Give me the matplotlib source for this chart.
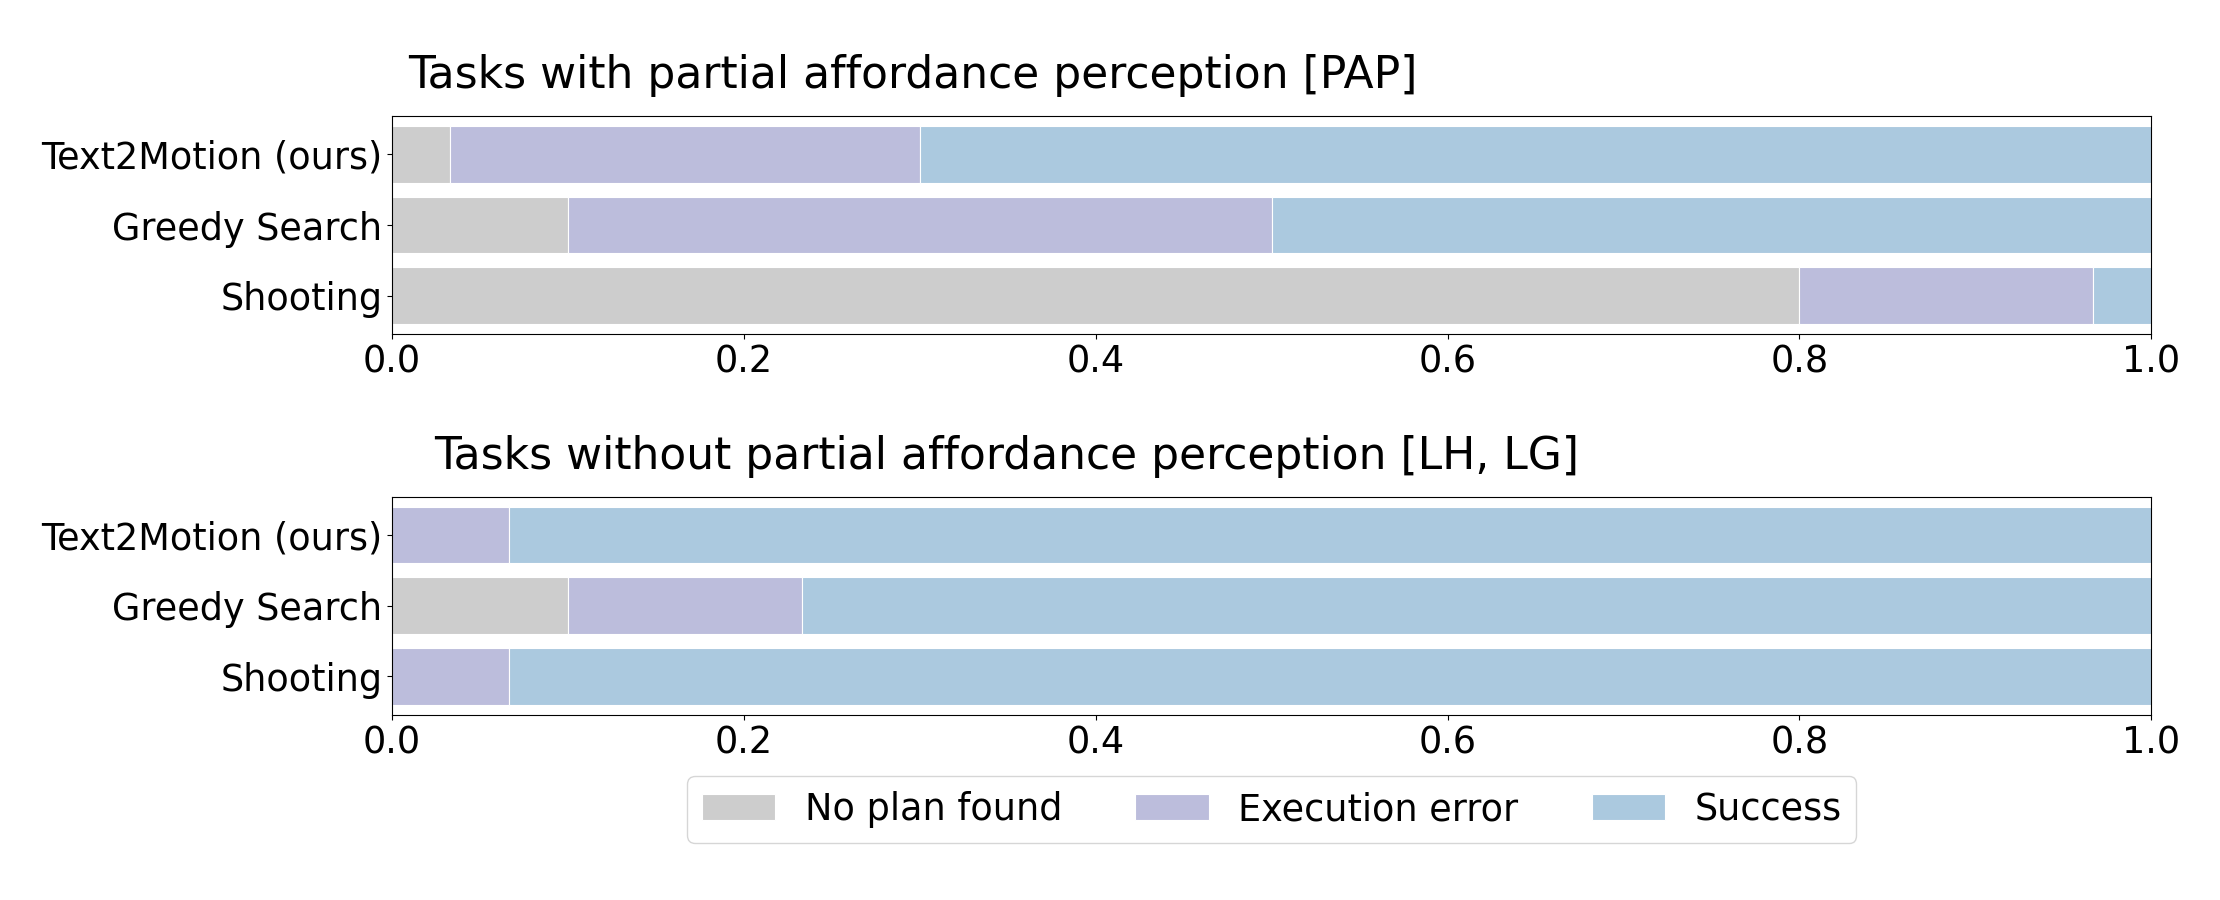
import matplotlib
matplotlib.use("Agg")
import matplotlib.pyplot as plt
import numpy as np

methods = ["Text2Motion (ours)", "Greedy Search", "Shooting"]
outcomes = ["No plan found", "Execution error", "Success"]
colors = ["#cdcdcd", "#bcbddc", "#abc9df"]

# fractions of tasks per outcome, one list per method
pap_no_plan = [0.033, 0.10, 0.80]
pap_exec_err = [0.267, 0.40, 0.167]
pap_success = [0.70, 0.50, 0.033]

other_no_plan = [0.0, 0.10, 0.0]
other_exec_err = [0.0667, 0.133, 0.0667]
other_success = [0.9333, 0.767, 0.9333]

titles = ["Tasks with partial affordance perception [PAP]",
          "Tasks without partial affordance perception [LH, LG]"]
title_x = [0.009, 0.024]

plt.rcParams['font.size'] = 26.4

fig = plt.figure(figsize=(22.2, 9), dpi=100)
ax_top = fig.add_axes([0.1766, 0.629, 0.7924, 0.242])
ax_bot = fig.add_axes([0.1766, 0.206, 0.7924, 0.242])

panels = [(ax_top, [pap_no_plan, pap_exec_err, pap_success]),
          (ax_bot, [other_no_plan, other_exec_err, other_success])]

for i, (ax, series) in enumerate(panels):
    y = np.arange(len(methods))
    left = np.zeros(len(methods))
    for vals, lab, c in zip(series, outcomes, colors):
        ax.barh(y, vals, left=left, height=0.8, color=c, label=lab,
                edgecolor="white", linewidth=0.8)
        left = left + np.array(vals)
    ax.set_yticks(y)
    ax.set_yticklabels(methods)
    ax.invert_yaxis()
    ax.set_xlim(0, 1)
    ax.set_xticks([0.0, 0.2, 0.4, 0.6, 0.8, 1.0])
    ax.set_xticklabels(["0.0", "0.2", "0.4", "0.6", "0.8", "1.0"])
    ax.set_title(titles[i], loc="left", x=title_x[i], pad=20)

ax_bot.legend(loc="upper center", bbox_to_anchor=(0.5, -0.284), ncol=3,
              borderaxespad=0, columnspacing=2.0)

fig.savefig("out.png", dpi=100)
